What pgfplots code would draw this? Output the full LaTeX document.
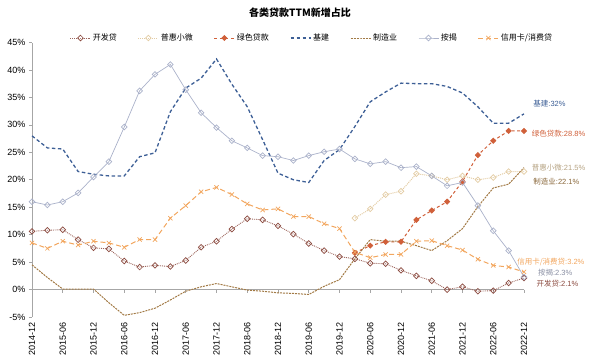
\documentclass[border=0pt]{standalone}
\usepackage{fontspec}
\setmainfont{Liberation Sans}
\newfontfamily\cjk{Noto Sans CJK SC}
\usepackage{pgfplots}
\pgfplotsset{compat=1.18}
\usepackage{pgfplotstable}
\definecolor{ckfd}{HTML}{8B4A3F}
\definecolor{cphxw}{HTML}{E3CCA4}
\definecolor{cls}{HTML}{D0603A}
\definecolor{cjj}{HTML}{3D5F96}
\definecolor{czz}{HTML}{A27A45}
\definecolor{caj}{HTML}{ABB2CA}
\definecolor{cxyk}{HTML}{F2A65E}
\definecolor{axgray}{HTML}{A6A6A6}

\pgfplotstableread{
x kfd jj zz aj xyk
0 10.6 28.0 4.5 16.0 8.5
1 10.8 25.8 2.2 15.4 7.5
2 10.9 25.6 0.1 16.0 8.8
3 9.1 21.5 0.1 17.6 8.1
4 7.6 21.0 0.1 20.5 8.8
5 7.4 20.7 -2.4 23.3 8.5
6 5.2 20.7 -4.7 29.6 7.7
7 4.1 24.2 -4.2 36.2 9.1
8 4.4 24.9 -3.4 39.2 9.1
9 4.2 32.4 -1.9 41.0 13.0
10 5.3 36.7 -0.3 36.4 15.3
11 7.7 38.5 0.5 32.2 17.8
12 8.8 42.0 1.1 29.5 18.6
13 11.0 37.4 0.5 27.1 17.3
14 12.9 33.3 -0.1 25.8 15.6
15 12.7 27.3 -0.3 24.4 14.5
16 11.6 21.2 -0.6 24.2 14.7
17 10.1 20.0 -0.7 23.5 13.3
18 8.4 19.5 -0.9 24.4 13.3
19 7.1 23.5 0.6 25.1 12.0
20 6.0 25.5 1.8 25.6 11.1
21 5.6 29.7 5.6 23.8 6.8
22 4.8 34.2 9.1 22.9 5.8
23 4.7 36.0 8.8 23.3 6.4
24 3.5 37.6 8.8 22.2 6.4
25 2.5 37.5 8.0 22.4 8.8
26 1.6 37.5 7.1 20.7 8.9
27 0.0 37.0 8.9 18.9 8.0
28 0.5 35.8 11.1 19.5 7.2
29 -0.3 33.3 15.1 15.3 5.5
30 -0.2 30.3 18.5 10.7 4.4
31 1.2 30.3 19.2 7.1 4.1
32 2.1 32.0 22.2 2.3 3.2
}\maindata

\pgfplotstableread{
x ls ph
21 6.7 13.0
22 8.0 14.7
23 8.7 17.3
24 8.7 17.9
25 12.7 21.1
26 14.4 20.7
27 16.0 20.0
28 19.7 20.7
29 24.5 20.0
30 27.1 20.4
31 28.9 21.5
32 28.9 21.5
}\newdata

\begin{document}
\begin{tikzpicture}
\useasboundingbox (-32pt,-43pt) rectangle (568pt,317pt);
\begin{axis}[
  at={(0pt,0pt)}, anchor=south west,
  scale only axis, width=492pt, height=274.5pt,
  xmin=0, xmax=32, ymin=-5, ymax=45,
  clip=false,
  axis y line*=left, axis x line*=bottom,
  x axis line style={draw=none},
  y axis line style={draw=axgray, line width=0.6pt},
  xtick={0,2,...,32},
  xticklabels={2014-12,2015-06,2015-12,2016-06,2016-12,2017-06,2017-12,2018-06,2018-12,2019-06,2019-12,2020-06,2020-12,2021-06,2021-12,2022-06,2022-12},
  xtick style={draw=none},
  xticklabel style={rotate=90, anchor=east, font=\fontsize{9}{10}\selectfont, inner sep=2pt},
  ytick={-5,0,...,45},
  yticklabel={\pgfmathprintnumber{\tick}\%},
  yticklabel style={font=\fontsize{9}{10}\selectfont},
  ytick style={draw=axgray, line width=0.6pt},
  tick align=outside, major tick length=3pt,
  /pgf/number format/assume math mode=true,
  legend columns=7,
  legend cell align=left,
  legend style={at={(0.5,1)}, anchor=center, xshift=34pt, yshift=4.5pt, draw=none, fill=none,
    font=\cjk\fontsize{8}{10}\selectfont,
    /tikz/every even column/.append style={column sep=19pt}},
  legend image code/.code={\draw[mark repeat=2,mark phase=2,#1] plot coordinates {(0pt,0pt)(10pt,0pt)(20pt,0pt)};},
]
\draw[axgray, line width=0.6pt] (axis cs:0,0) -- (axis cs:32,0);
\pgfplotsinvokeforeach{0,2,...,32}{\draw[axgray, line width=0.6pt] (axis cs:#1,0) -- ++(0pt,-3pt);}

\addplot[ckfd!85, line width=0.9pt, densely dotted, mark=square, mark size=2pt,
  mark options={solid, rotate=45, fill=white, draw=ckfd, line width=0.7pt}] table[x=x,y=kfd]{\maindata};
\addlegendentry{开发贷}
\addplot[cphxw, line width=1pt, densely dotted, mark=square, mark size=2pt,
  mark options={solid, rotate=45, fill=white, draw=cphxw, line width=0.7pt}] table[x=x,y=ph]{\newdata};
\addlegendentry{普惠小微}
\addplot[cls, line width=1pt, dash pattern=on 3pt off 2.5pt, mark=square*, mark size=1.7pt,
  mark options={solid, rotate=45, fill=cls}] table[x=x,y=ls]{\newdata};
\addlegendentry{绿色贷款}
\addplot[cjj, line width=1.3pt, dash pattern=on 3.5pt off 2.5pt] table[x=x,y=jj]{\maindata};
\addlegendentry{基建}
\addplot[czz, line width=1pt, dash pattern=on 2pt off 1pt] table[x=x,y=zz]{\maindata};
\addlegendentry{制造业}
\addplot[caj, line width=0.7pt, mark=square, mark size=2pt,
  mark options={solid, rotate=45, fill=white, draw=caj, line width=0.7pt}] table[x=x,y=aj]{\maindata};
\addlegendentry{按揭}
\addplot[cxyk, line width=1pt, dash pattern=on 5pt off 3pt, mark=x, mark size=3pt,
  mark options={solid, line width=0.7pt}] table[x=x,y=xyk]{\maindata};
\addlegendentry{信用卡/消费贷}

\begin{scope}[every node/.style={anchor=west, inner sep=0pt, font=\fontsize{7.5}{9}\selectfont}]
\node[text=cjj] at (axis cs:32.6,33.8) {{\cjk 基建}:32\%};
\node[text=cls] at (axis cs:32.5,28.4) {{\cjk 绿色贷款}:28.8\%};
\node[text=cphxw!80!black] at (axis cs:32.5,22.2) {{\cjk 普惠小微}:21.5\%};
\node[text=czz!85!black] at (axis cs:32.6,19.6) {{\cjk 制造业}:22.1\%};
\node[text=cxyk] at (axis cs:31.55,5.1) {{\cjk 信用卡/消费贷}:3.2\%};
\node[text=caj!80!black] at (axis cs:32.9,3.1) {{\cjk 按揭}:2.3\%};
\node[text=ckfd] at (axis cs:32.8,1.1) {{\cjk 开发贷}:2.1\%};
\end{scope}
\end{axis}
\node[font=\cjk\bfseries\fontsize{10}{12}\selectfont] at (268pt,304pt) {各类贷款TTM新增占比};
\end{tikzpicture}
\end{document}
